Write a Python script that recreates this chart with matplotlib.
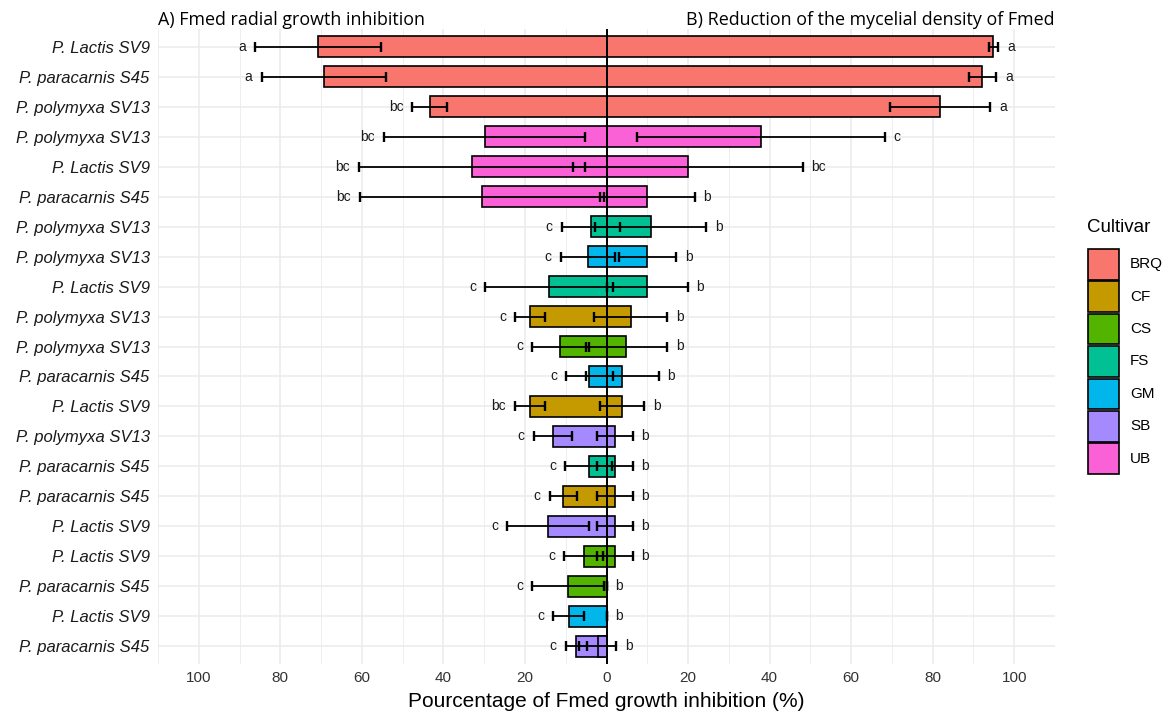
import matplotlib
matplotlib.use("Agg")
import matplotlib.pyplot as plt
from matplotlib.patches import Rectangle
import numpy as np

# ---------------- data ----------------
strains = [
    "P. Lactis SV9", "P. paracarnis S45", "P. polymyxa SV13",
    "P. polymyxa SV13", "P. Lactis SV9", "P. paracarnis S45",
    "P. polymyxa SV13", "P. polymyxa SV13", "P. Lactis SV9",
    "P. polymyxa SV13", "P. polymyxa SV13", "P. paracarnis S45",
    "P. Lactis SV9", "P. polymyxa SV13", "P. paracarnis S45",
    "P. paracarnis S45", "P. Lactis SV9", "P. Lactis SV9",
    "P. paracarnis S45", "P. Lactis SV9", "P. paracarnis S45",
]
cultivars = [
    "BRQ", "BRQ", "BRQ", "UB", "UB", "UB", "FS", "GM", "FS", "CF", "CS",
    "GM", "CF", "SB", "FS", "CF", "SB", "CS", "CS", "GM", "SB",
]
# A) radial growth inhibition (%) -> drawn to the left
radial_mean = [70.8, 69.4, 43.3, 29.9, 33.0, 30.5, 3.9, 4.6, 14.1, 18.8, 11.3,
               4.2, 18.8, 13.2, 4.4, 10.6, 14.4, 5.6, 9.4, 9.2, 7.4]
radial_sd = [15.4, 15.2, 4.3, 24.7, 27.8, 30.0, 7.1, 6.6, 15.6, 3.6, 7.0,
             5.7, 3.6, 4.7, 5.7, 3.3, 10.0, 4.8, 8.9, 3.8, 2.6]
radial_letters = ["a", "a", "bc", "bc", "bc", "bc", "c", "c", "c", "c", "c",
                  "c", "bc", "c", "c", "c", "c", "c", "c", "c", "c"]
# B) reduction of mycelial density (%) -> drawn to the right
density_mean = [94.9, 92.2, 81.8, 37.9, 19.9, 10.0, 10.8, 10.0, 10.0, 5.9, 4.9,
                3.9, 3.9, 2.0, 2.0, 2.0, 2.0, 2.0, 0.0, 0.0, -2.2]
density_sd = [1.2, 3.4, 12.3, 30.3, 28.2, 11.6, 13.6, 7.0, 9.9, 9.0, 10.0,
              8.9, 5.4, 4.4, 4.4, 4.4, 4.4, 4.4, 0.0, 0.0, 4.5]
density_letters = ["a", "a", "a", "c", "bc", "b", "b", "b", "b", "b", "b",
                   "b", "b", "b", "b", "b", "b", "b", "b", "b", "b"]

cultivar_levels = ["BRQ", "CF", "CS", "FS", "GM", "SB", "UB"]
cultivar_colors = ["#F8766D", "#C49A00", "#53B400", "#00C094",
                   "#00B6EB", "#A58AFF", "#FB61D7"]
x_ticks = [-100, -80, -60, -40, -20, 0, 20, 40, 60, 80, 100]
x_ticklabels = ["100", "80", "60", "40", "20", "0", "20", "40", "60", "80", "100"]

# ---------------- figure ----------------
W, H = 1172, 716
fig = plt.figure(figsize=(W / 100, H / 100), dpi=100)
SANS = ["Liberation Sans", "DejaVu Sans"]
TITLEF = ["Open Sans", "DejaVu Sans"]

ax_l, ax_r, ax_t, ax_b = 158, 1055, 29, 664
ax = fig.add_axes([ax_l / W, 1 - ax_b / H, (ax_r - ax_l) / W, (ax_b - ax_t) / H])

n = len(strains)
y = np.arange(n)
cmap = dict(zip(cultivar_levels, cultivar_colors))
colors = [cmap[c] for c in cultivars]

rm = -np.array(radial_mean)
rs = np.array(radial_sd)
dm = np.array(density_mean)
ds = np.array(density_sd)

ax.set_xlim(-110, 110)
ax.set_ylim(n - 0.4, -0.6)

# grid
for v in np.arange(-110, 111, 10):
    major = (v % 20 == 0)
    ax.axvline(v, color="#EBEBEB", lw=1.1 if major else 0.6, zorder=0)
for yy in y:
    ax.axhline(yy, color="#EBEBEB", lw=1.1, zorder=0)

ax.barh(y, rm, height=0.7, color=colors, edgecolor="black", linewidth=1.2, zorder=2)
ax.barh(y, dm, height=0.7, color=colors, edgecolor="black", linewidth=1.2, zorder=2)

ax.errorbar(rm, y, xerr=rs, fmt="none", ecolor="black", elinewidth=1.3,
            capsize=3.5, capthick=1.7, zorder=3)
ax.errorbar(dm, y, xerr=ds, fmt="none", ecolor="black", elinewidth=1.3,
            capsize=3.5, capthick=1.7, zorder=3)

ax.axvline(0, color="black", lw=1.4, zorder=4)

for i in range(n):
    ax.text(rm[i] - rs[i] - 2.2, y[i], radial_letters[i], ha="right", va="center",
            fontsize=10, family=SANS, color="#1a1a1a", zorder=5)
    ax.text(dm[i] + ds[i] + 2.2, y[i], density_letters[i], ha="left", va="center",
            fontsize=10, family=SANS, color="#1a1a1a", zorder=5)

ax.set_yticks(y)
ax.set_yticklabels(strains, fontsize=12, style="italic", family=SANS, color="#1a1a1a")
ax.set_xticks(x_ticks)
ax.set_xticklabels(x_ticklabels, fontsize=11, family=SANS, color="#333333")
ax.tick_params(length=0, pad=6)
ax.tick_params(axis="x", pad=5)
for s in ax.spines.values():
    s.set_visible(False)

ax.set_xlabel("Pourcentage of Fmed growth inhibition (%)", fontsize=15,
              family=SANS, labelpad=5)

ax.set_title("A) Fmed radial growth inhibition", loc="left", fontsize=12.9,
             family=TITLEF, pad=3)
ax.set_title("B) Reduction of the mycelial density of Fmed", loc="right",
             fontsize=12.9, family=TITLEF, pad=3)

# legend
fig.text(1087 / W, 1 - 228 / H, "Cultivar", fontsize=13.5, family=SANS,
         ha="left", va="center")
key_top, pitch, ksz = 249, 32.4, 30.5
for k, (lab, col) in enumerate(zip(cultivar_levels, cultivar_colors)):
    top = key_top + k * pitch
    fig.add_artist(Rectangle((1088 / W, 1 - (top + ksz) / H), ksz / W, ksz / H,
                             facecolor=col, edgecolor="black", linewidth=1.2,
                             transform=fig.transFigure))
    fig.text(1130 / W, 1 - (top + ksz / 2) / H, lab, fontsize=11, family=SANS,
             ha="left", va="center")

fig.savefig("out.png", dpi=100)
